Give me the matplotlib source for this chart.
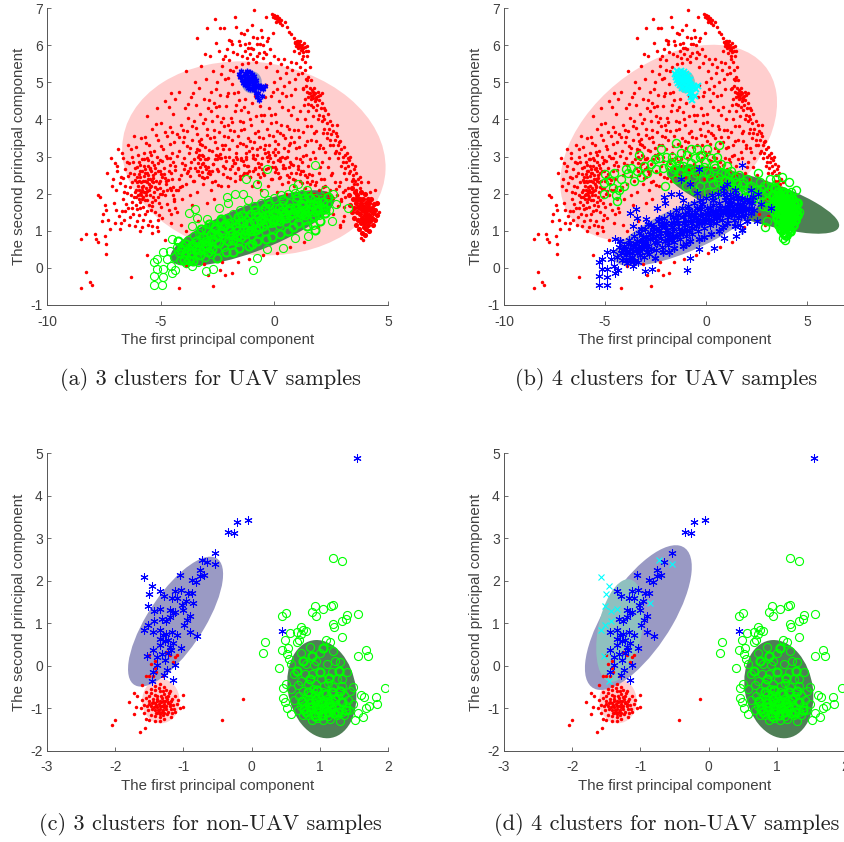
#!/usr/bin/env python3
"""Four PCA scatter panels: UAV and non-UAV samples, 3 and 4 clusters."""

import matplotlib
matplotlib.use("Agg")
import matplotlib.pyplot as plt
import numpy as np
from matplotlib.patches import Ellipse

plt.rcParams["font.family"] = ["Liberation Sans", "DejaVu Sans"]

# UAV samples (first PC, second PC)
uav_left = [
    (-7.35, 2.55), (-7.2, 2.95), (-7.1, 2.4), (-7.05, 1.75), (-6.95, 2.1), (-6.9, 2.75), (-6.85, 1.4),
    (-6.8, 1.05), (-6.75, 2.45), (-6.7, 3.1), (-6.65, 1.85), (-6.6, 1.3), (-6.55, 2.2), (-6.5, 2.85),
    (-6.45, 3.3), (-6.42, 1.6), (-6.4, 1.15), (-6.35, 2.55), (-6.3, 1.95), (-6.28, 3.0), (-6.25, 2.3),
    (-6.2, 1.45), (-6.18, 3.55), (-6.15, 2.7), (-6.12, 2.05), (-6.1, 1.7), (-6.08, 3.25), (-6.05, 2.45),
    (-6.02, 1.25), (-6.0, 1.95), (-5.98, 2.2), (-5.95, 2.85), (-5.93, 1.6), (-5.9, 2.6), (-5.88, 3.5),
    (-5.85, 2.05), (-5.83, 1.85), (-5.8, 1.1), (-5.78, 2.35), (-5.75, 3.1), (-5.73, 2.75), (-5.7, 1.45),
    (-5.68, 2.55), (-5.65, 2.15), (-5.63, 1.95), (-5.6, 4.1), (-5.58, 2.95), (-5.55, 2.4), (-5.53, 1.7),
    (-5.5, 3.3), (-5.48, 2.65), (-5.45, 1.25), (-5.43, 2.2), (-5.4, 2.85), (-5.38, 3.75), (-5.35, 2.5),
    (-5.33, 1.9), (-5.3, 2.05), (-5.28, 3.15), (-5.25, 1.5), (-5.23, 2.7), (-5.2, 2.35), (-5.18, 4.3),
    (-5.15, 1.1), (-5.13, 2.6), (-5.1, 3.45), (-5.08, 1.75), (-5.05, 2.15), (-5.03, 2.9), (-5.0, 3.9),
    (-4.95, 2.45), (-4.92, 1.35), (-4.9, 3.2), (-4.85, 2.7), (-4.82, 1.95), (-4.8, 4.5), (-4.75, 2.25),
    (-4.72, 3.55), (-4.7, 2.95), (-4.65, 1.55), (-4.62, 2.6), (-4.6, 3.8), (-4.55, 2.1), (-4.52, 3.1),
    (-4.5, 2.4), (-4.45, 4.15), (-4.42, 1.85), (-4.4, 3.4), (-5.92, 2.0), (-5.72, 2.05), (-5.62, 2.55),
    (-5.82, 2.6), (-6.02, 2.3), (-5.52, 2.25), (-5.42, 2.6), (-5.77, 1.9), (-5.97, 1.85), (-6.07, 2.1),
    (-5.57, 2.75), (-5.47, 2.4), (-5.87, 2.3), (-5.67, 2.35), (-5.32, 2.3), (-5.27, 2.55), (-6.17, 1.9),
    (-7.55, 1.45), (-7.6, 1.25), (-7.45, 1.7), (-7.65, 1.9), (-7.75, 1.95), (-7.4, 1.55), (-7.3, 1.3),
    (-7.25, 1.05),
]
uav_left_more = [
    (-6.93, 2.62), (-6.71, 1.52), (-6.47, 2.03), (-6.58, 2.67), (-6.34, 1.37), (-6.22, 2.86), (-6.11, 2.37),
    (-6.04, 1.58), (-5.96, 2.53), (-5.91, 1.77), (-5.84, 2.19), (-5.79, 1.63), (-5.74, 2.48), (-5.71, 1.82),
    (-5.66, 3.36), (-5.61, 2.08), (-5.59, 1.52), (-5.54, 2.91), (-5.49, 1.97), (-5.46, 2.17), (-5.41, 3.04),
    (-5.36, 1.66), (-5.34, 2.42), (-5.29, 2.78), (-5.24, 1.83), (-5.19, 3.58), (-5.16, 2.12), (-5.11, 2.83),
    (-5.06, 1.42), (-5.01, 2.33), (-4.97, 3.28), (-4.91, 2.06), (-4.87, 2.52), (-4.78, 3.02), (-4.74, 1.72),
    (-4.68, 2.37), (-4.61, 3.34), (-4.57, 2.78), (-4.49, 3.66), (-4.46, 2.19), (-4.39, 2.64), (-4.36, 1.62),
    (-6.88, 3.2), (-6.66, 2.95), (-6.52, 1.72), (-6.31, 3.2), (-6.13, 1.12), (-5.99, 3.05), (-5.81, 2.93),
    (-5.76, 1.3), (-5.69, 3.52), (-5.56, 1.15), (-5.44, 1.55), (-5.37, 1.12), (-5.22, 3.88), (-5.12, 1.28),
    (-4.98, 1.65), (-4.83, 3.65), (-4.63, 4.32), (-4.53, 1.45), (-7.02, 2.83), (-7.15, 2.2), (-6.98, 1.55),
    (-5.86, 1.95), (-5.96, 2.1), (-5.76, 2.2), (-5.66, 2.05), (-5.56, 2.5), (-5.46, 2.7), (-5.9, 2.45),
    (-6.08, 1.9), (-5.81, 2.1), (-5.7, 2.65), (-5.6, 2.3), (-5.51, 2.1), (-5.39, 2.35), (-5.95, 2.35),
    (-6.81, 2.28), (-6.62, 2.04), (-6.38, 2.82), (-6.27, 1.62), (-6.16, 2.52), (-6.06, 2.72), (-5.94, 1.42),
    (-5.89, 2.76), (-5.72, 2.92), (-5.58, 1.84), (-5.47, 3.12), (-5.38, 1.78), (-5.26, 2.18), (-5.14, 2.98),
    (-5.04, 2.62), (-4.93, 2.88), (-4.81, 2.42), (-4.71, 2.1), (-4.59, 2.96), (-4.47, 2.84), (-6.44, 2.48),
    (-6.74, 1.22), (-6.56, 1.52), (-6.24, 1.78), (-5.12, 1.92), (-4.94, 1.98), (-6.64, 2.42), (-6.37, 2.18),
]
uav_middle = [
    (-4.35, 2.75), (-4.3, 3.6), (-4.25, 2.1), (-4.2, 4.75), (-4.18, 3.15), (-4.12, 2.5), (-4.1, 3.85),
    (-4.05, 1.85), (-4.0, 3.4), (-3.98, 2.95), (-3.95, 4.3), (-3.9, 2.25), (-3.88, 5.3), (-3.85, 3.7),
    (-3.8, 2.6), (-3.78, 4.05), (-3.75, 3.1), (-3.7, 1.95), (-3.68, 4.6), (-3.65, 2.85), (-3.6, 3.45),
    (-3.58, 2.35), (-3.55, 3.95), (-3.5, 5.0), (-3.48, 2.7), (-3.45, 4.4), (-3.42, 3.2), (-3.4, 2.05),
    (-3.38, 3.6), (-3.35, 3.0), (-3.32, 4.85), (-3.3, 2.5), (-3.28, 4.15), (-3.25, 3.35), (-3.22, 5.45),
    (-3.2, 2.8), (-3.18, 3.05), (-3.15, 3.9), (-3.12, 2.25), (-3.1, 4.55), (-3.05, 3.25), (-3.02, 2.65),
    (-3.0, 5.1), (-2.98, 2.45), (-2.95, 3.75), (-2.92, 4.3), (-2.9, 2.95), (-2.88, 2.6), (-2.85, 5.7),
    (-2.82, 3.5), (-2.8, 2.1), (-2.78, 4.75), (-2.75, 3.15), (-2.72, 3.95), (-2.7, 2.8), (-2.68, 5.3),
    (-2.65, 4.45), (-2.62, 2.35), (-2.6, 3.4), (-2.58, 6.05), (-2.55, 3.05), (-2.52, 5.0), (-2.5, 4.1),
    (-2.48, 2.6), (-2.45, 3.65), (-2.42, 5.85), (-2.4, 2.95), (-2.38, 4.65), (-2.35, 2.2), (-2.32, 3.3),
    (-2.3, 5.45), (-2.28, 4.05), (-2.25, 2.75), (-2.22, 6.45), (-2.2, 3.55), (-2.18, 5.1), (-2.15, 3.0),
    (-2.12, 4.35), (-2.1, 5.9), (-2.08, 2.45), (-2.05, 3.85), (-2.02, 4.7), (-2.0, 3.2), (-1.98, 5.6),
    (-1.95, 2.65), (-1.92, 4.05), (-1.9, 6.1), (-1.88, 3.45), (-1.85, 4.95), (-1.82, 2.9), (-1.8, 5.3),
    (-1.78, 3.7), (-1.75, 6.75), (-1.72, 2.35), (-1.7, 4.4), (-1.68, 3.1), (-1.65, 5.75), (-1.62, 4.75),
    (-1.6, 3.55), (-1.58, 2.7), (-1.55, 5.15), (-1.52, 6.0), (-1.5, 3.95), (-1.48, 2.95), (-1.45, 4.25),
    (-1.42, 5.5), (-1.4, 3.35), (-1.38, 2.5), (-1.35, 6.3), (-1.32, 3.75), (-1.3, 5.85), (-1.28, 4.55),
    (-1.25, 3.0), (-1.22, 5.65), (-1.2, 2.75), (-1.18, 3.5), (-1.15, 4.2), (-1.12, 6.05), (-1.1, 3.15),
    (-1.08, 5.75), (-1.05, 2.45), (-1.02, 3.85), (-1.0, 6.55), (-0.98, 4.45), (-0.95, 2.95), (-0.92, 5.9),
    (-0.9, 3.4), (-0.88, 6.95), (-0.85, 2.65), (-0.82, 4.1), (-0.8, 5.55), (-0.78, 3.05), (-0.75, 6.2),
    (-0.72, 3.7), (-0.7, 2.3), (-0.68, 5.8), (-0.65, 4.35), (-0.62, 3.25), (-0.6, 6.4), (-0.58, 2.8),
    (-0.55, 3.95), (-0.52, 5.65), (-0.5, 3.5), (-0.48, 6.0), (-0.45, 2.5), (-0.42, 4.6), (-0.4, 3.1),
    (-0.38, 6.75), (-0.35, 5.75), (-0.32, 3.75), (-0.3, 2.7), (-0.28, 6.2), (-0.25, 4.3), (-0.22, 3.3),
    (-0.2, 5.9), (-0.18, 2.95), (-0.15, 3.9), (-0.12, 6.85), (-0.1, 2.4), (-0.08, 4.75), (-0.05, 3.55),
    (0.0, 5.0), (0.02, 3.05), (0.05, 4.15), (0.08, 2.65), (0.1, 3.7), (0.12, 5.3), (0.15, 2.9),
    (0.18, 3.35), (0.2, 4.5), (0.25, 2.45), (0.28, 5.5), (0.3, 3.85), (0.35, 3.0), (0.4, 2.7),
    (0.42, 4.9), (0.45, 3.5), (0.5, 5.25), (0.55, 2.5), (0.58, 4.25), (0.6, 3.15), (0.65, 3.75),
    (0.7, 2.85), (0.72, 5.55), (0.75, 4.65), (0.8, 2.4), (0.85, 3.4), (0.9, 5.1), (0.95, 2.95),
    (1.0, 4.0), (1.05, 2.65), (1.1, 3.25), (1.15, 5.4), (1.2, 2.85), (1.25, 3.65), (1.3, 4.4),
    (1.35, 2.5), (1.4, 3.05), (1.45, 5.05), (1.5, 2.75), (1.6, 3.45), (1.65, 2.35), (1.7, 4.1),
    (1.8, 2.95), (1.85, 3.7), (1.95, 2.55), (2.0, 3.3), (2.1, 2.85), (2.2, 2.4), (2.3, 3.5),
    (2.4, 2.95), (2.5, 2.5), (2.65, 3.1),
]
uav_middle_more = [
    (-4.27, 3.02), (-4.14, 2.17), (-4.03, 3.72), (-3.93, 2.78), (-3.83, 3.28), (-3.72, 2.47), (-3.63, 3.82),
    (-3.53, 2.92), (-3.44, 3.12), (-3.37, 2.62), (-3.33, 3.18), (-3.27, 2.92), (-3.23, 3.47), (-3.17, 2.57),
    (-3.13, 3.02), (-3.08, 2.42), (-3.03, 2.93), (-2.97, 3.58), (-2.93, 2.72), (-2.87, 3.17), (-2.83, 2.52),
    (-2.77, 4.22), (-2.73, 2.32), (-2.67, 3.72), (-2.63, 2.92), (-2.57, 4.82), (-2.53, 3.22), (-2.47, 2.22),
    (-2.43, 4.37), (-2.37, 3.07), (-2.33, 5.22), (-2.27, 2.52), (-2.23, 3.82), (-2.17, 5.72), (-2.13, 2.87),
    (-2.07, 4.62), (-2.03, 3.52), (-1.97, 5.32), (-1.93, 2.42), (-1.87, 3.92), (-1.83, 5.82), (-1.77, 2.82),
    (-1.73, 4.22), (-1.67, 5.42), (-1.63, 3.27), (-1.57, 6.12), (-1.53, 2.47), (-1.47, 3.72), (-1.43, 5.72),
    (-1.37, 2.87), (-1.33, 4.32), (-1.27, 6.02), (-1.23, 3.27), (-1.17, 5.52), (-1.13, 2.62), (-1.07, 4.02),
    (-1.03, 5.92), (-0.97, 3.22), (-0.93, 6.22), (-0.87, 2.92), (-0.83, 4.62), (-0.77, 5.72), (-0.73, 2.52),
    (-0.67, 3.52), (-0.63, 6.02), (-0.57, 4.12), (-0.53, 2.67), (-0.47, 5.82), (-0.43, 3.32), (-0.37, 4.92),
    (-0.33, 6.12), (-0.27, 2.87), (-0.23, 3.57), (-0.17, 5.52), (-0.13, 4.12), (-0.07, 3.12), (-0.03, 5.72),
    (0.03, 2.72), (0.07, 3.92), (0.13, 4.82), (0.17, 3.12), (0.23, 5.12), (0.27, 2.87), (0.33, 4.32),
    (0.37, 3.57), (0.43, 5.62), (0.47, 2.97), (0.53, 4.62), (0.57, 3.82), (0.63, 5.02), (0.67, 3.37),
    (0.73, 4.12), (0.77, 5.32), (0.83, 2.77), (0.87, 3.72), (0.93, 4.82), (0.97, 3.22), (1.03, 5.22),
    (1.07, 3.52), (1.13, 4.22), (1.17, 2.62), (1.23, 5.62), (1.27, 3.02), (1.33, 4.02), (1.37, 5.32),
    (1.43, 3.42), (1.47, 4.22), (1.53, 2.52), (1.62, 3.82), (1.72, 3.12), (1.82, 3.42), (1.92, 4.02),
    (2.02, 2.72), (2.12, 3.62), (2.22, 3.12), (2.35, 2.72), (-2.95, 6.45), (-2.4, 6.45), (-3.4, 6.2),
    (-2.6, 6.7), (-1.7, 6.5), (-4.35, 4.55), (-4.55, 4.72), (-3.05, 5.75), (-2.0, 6.15), (-1.2, 6.4),
    (-4.21, 3.52), (-4.08, 2.82), (-3.96, 3.52), (-3.81, 4.42), (-3.69, 3.22), (-3.56, 4.72), (-3.46, 3.77),
    (-3.36, 2.82), (-3.31, 3.42), (-3.26, 2.72), (-3.19, 3.32), (-3.14, 2.82), (-3.06, 4.02), (-2.96, 2.92),
    (-2.86, 4.52), (-2.76, 2.62), (-2.66, 3.52), (-2.56, 4.32), (-2.46, 3.02), (-2.36, 3.92), (-2.26, 5.62),
    (-2.16, 3.32), (-2.06, 5.12), (-1.96, 3.72), (-1.86, 6.02), (-1.76, 4.72), (-1.66, 2.92), (-1.56, 4.52),
    (-1.46, 6.32), (-1.36, 3.92), (-1.26, 2.92), (-1.16, 5.92), (-1.06, 3.42), (-0.96, 5.62), (-0.86, 3.62),
    (-0.76, 6.02), (-0.66, 2.72), (-0.56, 6.22), (-0.46, 4.12), (-0.36, 5.42), (-0.26, 3.12), (-0.16, 4.62),
    (-0.06, 6.32), (0.04, 3.42), (0.14, 5.62), (0.24, 3.62), (0.34, 4.72), (0.44, 3.22), (0.54, 5.42),
    (0.64, 2.72), (0.74, 3.52), (0.84, 4.32), (0.94, 5.52), (1.04, 3.72), (1.14, 2.92), (1.24, 4.82),
    (1.34, 3.32), (1.44, 3.82), (1.58, 2.92), (1.76, 3.62), (1.96, 3.22), (2.16, 3.22), (2.46, 3.32),
]
uav_arc = [
    (0.0, 6.82), (0.05, 6.72), (0.1, 6.78), (0.15, 6.65), (0.2, 6.72), (0.25, 6.6), (0.3, 6.68),
    (-0.05, 6.75), (0.35, 6.55), (0.45, 6.62), (0.55, 6.5), (0.65, 6.35), (0.75, 6.3), (0.85, 6.2),
    (0.9, 6.08), (0.95, 5.98), (1.0, 6.1), (1.03, 5.92), (1.08, 6.03), (1.1, 5.95), (1.13, 6.12),
    (1.18, 5.88), (1.2, 6.0), (1.25, 5.92), (1.28, 5.82), (1.33, 5.95), (1.4, 5.85), (1.45, 5.7),
    (1.55, 5.4), (1.4, 4.9), (1.45, 4.75), (1.5, 4.6), (1.55, 4.85), (1.58, 4.7), (1.62, 4.55),
    (1.65, 4.78), (1.7, 4.65), (1.73, 4.85), (1.78, 4.5), (1.8, 4.72), (1.85, 4.6), (1.88, 4.4),
    (1.92, 4.75), (1.95, 4.52), (2.0, 4.65), (2.05, 4.3), (2.1, 4.45), (2.12, 4.1), (2.2, 4.0),
    (2.25, 4.25), (2.3, 3.9), (2.4, 3.75), (2.45, 3.95), (2.5, 3.6), (2.6, 3.7), (2.65, 3.45),
    (2.75, 3.55), (2.8, 3.3), (2.85, 3.1), (2.9, 3.42), (2.95, 3.2), (3.0, 3.0), (3.05, 3.25),
    (3.1, 3.05), (3.15, 2.85), (3.2, 3.1), (3.25, 2.75), (3.3, 2.9), (3.35, 2.6), (3.4, 2.8),
    (3.45, 2.5), (3.5, 2.65), (3.55, 2.35), (3.6, 2.55), (3.65, 2.25), (3.7, 2.4), (3.75, 2.15),
    (3.8, 2.3), (0.02, 6.78), (0.12, 6.7), (0.08, 6.62), (0.22, 6.65), (0.98, 6.02), (1.06, 5.98),
    (1.02, 6.05), (1.12, 6.0), (1.16, 5.95), (1.22, 5.88), (1.05, 6.12), (0.93, 6.05), (1.6, 4.62),
    (1.68, 4.58), (1.75, 4.68), (1.82, 4.55), (1.52, 4.7), (1.9, 4.62), (1.72, 4.75), (2.7, 3.62),
    (3.1, 2.7), (3.0, 2.85), (3.28, 2.55), (3.4, 2.35), (3.5, 2.25), (3.6, 2.1), (3.22, 2.95),
    (3.55, 2.75), (3.35, 3.0), (2.85, 3.4), (2.55, 3.85), (2.35, 4.15), (2.2, 4.3), (1.35, 5.55),
    (1.5, 5.15), (1.25, 5.7), (1.6, 5.05), (2.1, 4.7), (2.75, 3.85), (1.35, 4.55), (1.48, 4.42),
    (1.6, 4.38), (1.72, 4.32), (1.85, 4.25), (1.98, 4.12), (2.08, 3.95), (2.2, 3.75), (2.32, 3.62),
    (2.45, 3.45), (2.58, 3.3), (2.7, 3.15), (2.82, 2.95), (2.95, 2.75), (3.08, 2.55), (1.28, 4.85),
    (1.38, 5.1), (1.2, 5.25), (0.85, 5.85), (1.3, 6.05), (1.42, 5.98), (1.5, 5.85), (1.1, 5.8),
]
uav_outliers = [
    (-8.5, -0.55), (-8.1, -0.38), (-8.0, -0.45), (-8.3, -0.1), (-6.3, -0.25), (-4.2, -0.53), (-2.7, -0.5),
    (-8.5, 0.77), (-8.3, 0.9), (-7.9, 0.9), (-7.85, 0.78), (-7.75, 0.7), (-7.45, 0.85), (-7.4, 0.65),
    (-7.4, 0.38), (-7.0, 1.2), (-5.9, 1.0), (-5.6, 0.35), (-5.4, 0.95), (-4.8, 0.75), (-3.9, 0.05),
    (-3.1, 0.1), (-2.9, -0.2), (-2.4, -0.05), (-2.15, -0.18), (-1.85, -0.15), (-2.3, 0.15), (-1.6, 0.15),
    (-1.1, 0.25), (-0.5, 0.35), (0.1, 0.4), (0.7, 0.55), (1.3, 0.7), (1.9, 1.1), (2.9, 1.15),
    (3.05, 1.4), (-4.1, 1.15), (-3.9, 1.0), (-3.35, 1.25), (-2.95, 1.75), (-2.65, 1.85), (-3.6, 1.7),
    (-4.3, 1.5), (-4.55, 1.2), (-5.1, 1.0), (2.6, 1.45), (2.95, 1.85), (3.1, 2.1), (2.9, 2.3),
]
uav_clump = [
    (3.3, 1.95), (3.35, 1.7), (3.4, 1.5), (3.42, 2.15), (3.45, 1.85), (3.5, 1.6), (3.52, 1.35),
    (3.55, 2.05), (3.58, 1.75), (3.6, 1.15), (3.62, 1.5), (3.65, 1.95), (3.68, 1.3), (3.7, 1.65),
    (3.72, 1.05), (3.75, 1.85), (3.78, 1.45), (3.8, 1.2), (3.82, 2.05), (3.83, 1.7), (3.85, 0.95),
    (3.87, 1.55), (3.9, 1.3), (3.92, 1.85), (3.93, 1.1), (3.95, 1.65), (3.97, 1.42), (3.98, 0.88),
    (4.0, 1.98), (4.02, 1.25), (4.03, 1.75), (4.05, 1.05), (4.07, 1.55), (4.08, 1.35), (4.1, 1.85),
    (4.12, 1.15), (4.13, 1.65), (4.15, 1.42), (4.17, 1.0), (4.18, 1.75), (4.2, 1.25), (4.22, 1.55),
    (4.25, 1.85), (4.28, 1.35), (4.3, 1.62), (4.33, 1.15), (4.35, 1.48), (4.38, 1.72), (4.42, 1.3),
    (4.45, 1.55), (4.5, 1.75), (4.52, 1.42), (3.75, 1.6), (3.85, 1.35), (3.95, 1.2), (4.05, 1.45),
    (3.9, 1.6), (4.1, 1.6), (3.8, 1.75), (4.0, 1.5), (4.15, 1.3), (3.7, 1.85), (3.6, 1.85),
]
uav_tip = [
    (-1.55, 5.22), (-1.5, 5.15), (-1.45, 5.3), (-1.42, 5.05), (-1.38, 4.98), (-1.35, 5.18), (-1.3, 5.25),
    (-1.28, 4.92), (-1.25, 5.1), (-1.22, 5.3), (-1.2, 5.0), (-1.18, 4.85), (-1.15, 5.18), (-1.12, 5.08),
    (-1.1, 4.95), (-1.08, 5.28), (-1.05, 4.82), (-1.02, 5.12), (-1.0, 5.0), (-0.98, 5.22), (-0.95, 4.9),
    (-0.92, 5.08), (-0.9, 4.78), (-0.88, 5.18), (-0.85, 4.98), (-0.82, 4.86), (-0.8, 5.05), (-0.75, 4.6),
    (-0.72, 4.92), (-0.7, 4.72), (-0.68, 4.52), (-0.65, 4.85), (-0.6, 4.9), (-0.55, 4.62), (-0.5, 4.82),
    (-0.42, 4.9), (-0.8, 4.7), (-1.05, 5.05), (-1.15, 5.0), (-0.95, 5.1),
]
# green circles in (a), blue stars in (b)
uav_low = [
    (1.79, 2.76), (-0.34, 2.67), (-1.24, 2.4), (-0.78, 2.25), (-0.45, 2.02), (1.05, 2.26), (0.83, 2.16),
    (1.42, 2.09), (2.23, 2.09), (2.59, 2.0), (2.7, 1.71), (3.22, 1.62), (2.52, 1.26), (-2.1, 1.91),
    (-1.73, 1.98), (-1.36, 1.98), (-1.14, 1.84), (-2.02, 1.75), (-2.42, 1.62), (-3.48, 1.59), (-3.76, 1.48),
    (-3.41, 1.35), (-2.97, 1.31), (-3.63, 1.13), (-4.51, 0.77), (-4.88, 0.43), (-5.17, 0.25), (-5.29, 0.17),
    (-4.9, -0.02), (-5.17, -0.02), (-5.29, -0.22), (-4.9, -0.25), (-5.29, -0.46), (-4.92, -0.46), (-4.51, -0.13),
    (-4.36, -0.06), (-3.63, 0.05), (-3.0, -0.08), (-2.68, -0.02), (-0.92, -0.07), (-0.78, 0.27), (0.4, 0.54),
    (-0.34, 0.5), (0.91, 0.81), (1.5, 0.85), (-4.4, 0.3), (-4.3, 0.55), (-4.2, 0.4), (-4.15, 0.2),
    (-4.05, 0.6), (-3.95, 0.35), (-3.9, 0.12), (-3.8, 0.75), (-3.75, 0.5), (-3.65, 0.3), (-3.55, 0.85),
    (-3.5, 0.6), (-3.4, 0.4), (-3.35, 0.15), (-3.3, 0.95), (-3.2, 0.7), (-3.15, 0.5), (-3.05, 0.28),
    (-3.0, 1.05), (-2.95, 0.82), (-2.85, 0.6), (-2.8, 0.38), (-2.7, 1.15), (-2.65, 0.92), (-2.55, 0.7),
    (-2.5, 0.48), (-2.4, 1.25), (-2.35, 1.02), (-2.25, 0.8), (-2.2, 0.55), (-2.1, 1.35), (-2.05, 1.1),
    (-1.95, 0.88), (-1.9, 0.62), (-1.8, 1.45), (-1.75, 1.2), (-1.65, 0.98), (-1.6, 0.7), (-1.5, 1.55),
    (-1.45, 1.3), (-1.35, 1.05), (-1.3, 0.78), (-1.2, 1.62), (-1.15, 1.38), (-1.05, 1.15), (-1.0, 0.85),
    (-0.9, 1.68), (-0.85, 1.45), (-0.75, 1.2), (-0.7, 0.92), (-0.6, 1.75), (-0.55, 1.5), (-0.45, 1.28),
    (-0.4, 1.0), (-0.3, 1.82), (-0.25, 1.58), (-0.15, 1.35), (-0.1, 1.08), (0.0, 1.88), (0.05, 1.62),
    (0.15, 1.42), (0.2, 1.15), (0.3, 1.95), (0.35, 1.7), (0.45, 1.48), (0.5, 1.22), (0.6, 1.98),
    (0.65, 1.75), (0.75, 1.55), (0.8, 1.3), (0.9, 2.02), (0.95, 1.82), (1.05, 1.62), (1.1, 1.38),
    (1.2, 1.98), (1.25, 1.78), (1.35, 1.55), (1.4, 1.3), (1.5, 1.95), (1.55, 1.72), (1.65, 1.5),
    (1.7, 1.15), (1.8, 1.88), (1.85, 1.65), (1.95, 1.42), (2.05, 1.85), (2.15, 1.62), (2.3, 1.75),
    (2.4, 1.55), (-3.3, 0.6), (-2.6, 0.8), (-1.7, 0.85), (-0.95, 1.0), (-0.2, 1.2), (0.4, 1.35),
    (1.0, 1.5), (1.6, 1.35), (2.0, 1.6), (-4.6, 0.45), (-4.7, 0.25), (-4.55, 0.05), (-4.0, 0.5),
]
uav_low_more = [
    (-4.12, 0.47), (-3.87, 0.63), (-3.68, 0.41), (-3.44, 0.72), (-3.27, 0.34), (-3.12, 0.84), (-2.91, 0.44),
    (-2.76, 0.77), (-2.59, 1.04), (-2.43, 0.66), (-2.29, 0.93), (-2.14, 0.42), (-1.98, 1.21), (-1.84, 0.74),
    (-1.69, 1.09), (-1.56, 0.53), (-1.41, 1.42), (-1.27, 0.92), (-1.11, 1.21), (-0.98, 0.64), (-0.83, 1.57),
    (-0.68, 1.08), (-0.52, 1.36), (-0.37, 0.78), (-0.22, 1.72), (-0.08, 1.23), (0.08, 1.49), (0.23, 0.92),
    (0.37, 1.83), (0.52, 1.34), (0.68, 1.61), (0.84, 1.09), (0.98, 1.92), (1.13, 1.47), (1.28, 1.67),
    (1.43, 1.12), (1.58, 1.88), (1.73, 1.39), (1.88, 1.78), (2.03, 1.27), (2.21, 1.47), (2.35, 1.92),
    (-4.25, 0.72), (-3.98, 0.2), (-3.58, 0.18), (-3.22, 1.05), (-2.88, 1.18), (-2.52, 0.27), (-2.17, 1.18),
    (-1.82, 0.43), (-1.46, 0.82), (-1.12, 0.58), (-0.78, 0.72), (-0.43, 1.62), (-0.12, 0.82), (0.27, 1.27),
    (0.62, 0.98), (1.02, 1.22), (1.32, 1.88), (1.78, 1.02), (-3.07, 0.62), (-2.72, 0.52), (-2.33, 1.32),
    (-1.94, 1.02), (-1.57, 1.22), (-1.19, 1.02), (-0.82, 1.02), (-0.48, 1.12), (-0.06, 1.45), (0.33, 1.52),
    (0.71, 1.42), (1.16, 1.72), (1.47, 1.52), (1.92, 1.58), (2.25, 1.58), (-3.75, 0.22), (-3.46, 0.52),
    (-2.98, 0.58), (-2.62, 1.1), (-2.02, 0.72), (-1.62, 1.38), (-1.03, 1.45), (-0.62, 1.28), (-0.28, 1.42),
    (0.12, 1.28), (0.58, 1.55), (0.92, 1.62), (1.22, 1.45), (1.68, 1.72), (2.12, 1.78), (-0.88, 1.25),
    (-3.9, 0.42), (-3.6, 0.62), (-3.33, 0.48), (-3.02, 0.72), (-2.77, 0.92), (-2.47, 0.87), (-2.23, 1.12),
    (-1.87, 0.92), (-1.63, 0.86), (-1.37, 1.22), (-1.08, 0.98), (-0.73, 1.4), (-0.36, 1.2), (-0.02, 1.32),
    (0.21, 1.62), (0.47, 1.42), (0.82, 1.48), (1.07, 1.52), (1.37, 1.42), (1.62, 1.6), (1.83, 1.52),
]
# red dots in (a), green circles in (b)
uav_band = [
    (-4.98, 2.52), (-5.06, 2.29), (-5.03, 1.98), (-4.4, 1.8), (-4.31, 2.11), (-3.98, 2.65), (-3.3, 3.05),
    (-2.24, 3.19), (-1.49, 3.37), (0.63, 3.32), (-4.75, 2.35), (-4.55, 2.55), (-4.6, 2.15), (-4.45, 1.95),
    (-4.2, 2.4), (-4.05, 2.2), (-3.85, 2.55), (-3.7, 2.7), (-3.55, 2.35), (-3.4, 2.6), (-3.2, 2.45),
    (-3.05, 2.75), (-2.9, 2.55), (-2.7, 2.8), (-2.5, 2.65), (-2.35, 2.95), (-2.15, 2.7), (-2.05, 2.2),
    (-2.0, 3.0), (-1.85, 2.75), (-1.7, 3.0), (-1.6, 2.65), (-1.45, 2.9), (-1.35, 2.55), (-1.25, 3.1),
    (-1.15, 2.75), (-1.05, 2.45), (-0.95, 3.05), (-0.85, 2.7), (-0.75, 3.2), (-0.65, 2.45), (-0.55, 2.95),
    (-0.45, 3.2), (-0.35, 2.65), (-0.25, 3.05), (-0.15, 2.4), (-0.05, 2.85), (0.05, 3.2), (0.15, 2.55),
    (0.25, 2.95), (0.35, 2.25), (0.45, 2.7), (0.55, 3.0), (0.65, 2.45), (0.75, 2.8), (0.85, 2.2),
    (0.95, 2.55), (1.05, 2.75), (1.15, 2.35), (1.25, 2.6), (1.35, 2.15), (1.45, 2.45), (1.55, 2.25),
    (1.65, 2.5), (1.75, 2.0), (1.85, 2.3), (1.95, 2.1), (2.05, 2.4), (2.15, 1.95), (2.25, 2.2),
    (2.35, 1.85), (2.45, 2.1), (2.55, 2.55), (2.65, 2.3), (2.75, 1.95), (2.85, 2.2), (2.95, 1.8),
    (3.05, 1.65), (3.0, 1.25), (2.9, 1.1), (3.15, 2.4), (3.45, 2.4), (3.75, 2.45), (4.1, 2.3),
    (4.2, 2.05), (4.45, 2.1), (4.6, 1.5), (3.8, 0.8), (3.9, 0.75), (-0.6, 2.1), (-0.3, 2.2),
    (0.1, 2.05), (0.5, 2.0), (-1.0, 2.2), (-1.5, 2.4), (-1.75, 2.55), (-1.22, 2.55), (-0.92, 2.62),
    (-0.52, 2.55), (-0.12, 2.72), (0.22, 2.42), (0.58, 2.32), (0.92, 2.38), (1.22, 2.28), (1.58, 2.05),
    (1.92, 1.92), (2.28, 2.02), (2.58, 1.88), (2.82, 1.68), (3.12, 1.92), (3.22, 2.15), (-0.72, 2.82),
    (-0.32, 2.98), (0.02, 2.58), (0.38, 2.78), (0.72, 2.55), (1.12, 2.52), (1.42, 2.32), (1.78, 2.22),
    (2.12, 2.18), (2.42, 1.95), (2.72, 2.12), (3.02, 2.05), (-1.32, 2.78), (-1.72, 2.82), (-2.52, 2.92),
]
# cluster ellipses: centre x, centre y, width, height, angle
ell_a_red = (-0.9, 2.95, 11.6, 5.2, -3)
ell_a_green = (-0.96, 1.07, 7.4, 1.3, 12.5)
ell_a_blue = (-1.0, 5.0, 0.9, 0.6, 0)
ell_b_red = (-1.85, 3.37, 11.0, 4.7, 14)
ell_b_green = (2.35, 1.85, 8.6, 1.2, -9.6)
ell_b_blue = (-0.96, 1.07, 7.4, 1.3, 12.5)
ell_b_cyan = (-1.0, 5.0, 0.9, 0.6, 0)

# non-UAV samples
nonuav_red = [
    (-2.05, -1.39), (-2.0, -1.28), (-1.63, -1.55), (-1.56, -1.46), (-1.8, -0.85), (-1.72, -0.63), (-1.68, -0.72),
    (-1.7, -0.98), (-1.72, -1.13), (-0.43, -1.27), (-0.12, -0.79), (-1.0, -0.68), (-1.01, -0.97), (-1.5, 0.25),
    (-1.48, 0.05), (-1.42, 0.12), (-1.41, -0.05), (-1.25, 0.32), (-1.2, 0.25), (-1.1, 0.25), (-1.13, 0.2),
    (-1.15, 0.1), (-1.4, -0.15), (-1.55, -0.25), (-1.5, -0.25), (-1.45, -0.25), (-1.6, -0.45), (-1.3, -0.25),
    (-1.55, -0.62), (-1.5, -0.9), (-1.6, -0.8), (-1.62, -1.0), (-1.58, -1.12), (-1.55, -1.25), (-1.5, -1.28),
    (-1.42, -1.3), (-1.35, -1.3), (-1.28, -1.25), (-1.18, -1.2), (-1.12, -1.1), (-1.05, -1.0), (-1.08, -0.8),
    (-1.12, -0.7), (-1.2, -0.6), (-1.28, -0.5), (-1.35, -0.42), (-1.42, -0.48), (-1.48, -0.65), (-1.55, -0.75),
    (-1.58, -0.92), (-1.52, -1.05), (-1.48, -1.15), (-1.42, -1.18), (-1.35, -1.2), (-1.28, -1.12), (-1.22, -1.08),
    (-1.18, -1.02), (-1.15, -0.92), (-1.18, -0.82), (-1.22, -0.72), (-1.28, -0.66), (-1.35, -0.6), (-1.42, -0.68),
    (-1.45, -0.78), (-1.5, -0.82), (-1.48, -0.95), (-1.42, -1.05), (-1.36, -1.08), (-1.3, -1.03), (-1.25, -0.95),
    (-1.22, -0.88), (-1.27, -0.82), (-1.32, -0.76), (-1.38, -0.78), (-1.42, -0.88), (-1.38, -0.98), (-1.32, -0.95),
    (-1.28, -0.9), (-1.33, -0.86), (-1.36, -0.9), (-1.4, -0.95), (-1.34, -1.02), (-1.3, -0.82), (-1.25, -1.02),
    (-1.44, -0.85), (-1.38, -0.84), (-1.2, -0.95), (-1.46, -1.02), (-1.33, -0.7), (-1.24, -0.78), (-1.16, -0.78),
    (-1.38, -1.12), (-1.3, -1.15), (-1.5, -0.72), (-1.1, -0.9), (-1.14, -1.02), (-1.4, -0.92), (-1.35, -0.82),
    (-1.29, -0.97), (-1.23, -0.85), (-1.37, -1.05), (-1.31, -1.08), (-1.43, -0.97), (-1.26, -0.74), (-1.35, -0.95),
    (-1.46, -0.88), (-1.19, -0.89), (-1.4, -1.12), (-1.24, -1.14), (-1.17, -1.12), (-1.53, -0.95), (-1.39, -0.72),
    (-1.3, -0.6), (-1.21, -0.65), (-1.41, -0.57), (-1.47, -0.55), (-1.36, -0.52), (-1.26, -0.58), (-1.34, -1.14),
]
nonuav_blue = [
    (1.55, 4.89), (0.45, 0.82), (-0.06, 3.44), (-0.21, 3.39), (-0.34, 3.16), (-0.26, 3.12), (-0.54, 2.65),
    (-0.66, 2.44), (-1.05, 2.13), (-0.75, 2.25), (-0.7, 2.15), (-0.76, 2.12), (-0.88, 2.02), (-0.81, 1.98),
    (-1.35, 1.76), (-1.28, 1.65), (-1.12, 1.77), (-1.03, 1.78), (-0.93, 1.72), (-0.88, 1.72), (-1.17, 1.59),
    (-1.1, 1.59), (-0.96, 1.52), (-1.2, 1.31), (-1.12, 1.27), (-1.02, 1.43), (-1.01, 1.31), (-0.91, 1.17),
    (-0.95, 1.09), (-0.99, 0.96), (-1.32, 1.11), (-1.2, 1.15), (-1.45, 0.8), (-1.34, 0.84), (-1.26, 0.76),
    (-1.17, 0.79), (-1.1, 0.72), (-0.91, 0.79), (-0.8, 0.71), (-1.34, 0.64), (-1.27, 0.59), (-1.34, 0.49),
    (-1.2, 0.45), (-1.15, 0.53), (-1.03, 0.42), (-1.44, 0.37), (-1.39, 0.21), (-1.22, 0.29), (-1.27, 0.13),
    (-1.12, 0.02), (-1.39, 0.02), (-1.45, -0.14), (-1.24, -0.09), (-1.29, -0.22), (-1.15, -0.34), (-1.25, 1.05),
    (-1.15, 1.25), (-1.3, 0.72), (-1.22, 0.6), (-1.18, 0.38), (-1.32, 0.28),
]
nonuav_split = [
    (-1.58, 2.1), (-1.46, 1.88), (-1.5, 1.7), (-0.72, 2.49), (-0.53, 2.39), (-0.86, 1.49), (-1.52, 1.4),
    (-1.43, 1.29), (-1.34, 1.33), (-1.43, 1.06), (-1.58, 0.84), (-1.52, 0.96), (-1.54, 0.23), (-1.46, -0.36),
]
nonuav_green = [
    (1.2, 2.53), (1.33, 2.46), (0.44, 1.18), (0.51, 1.25), (0.89, 1.27), (0.93, 1.4), (0.94, 1.18),
    (1.05, 1.33), (1.16, 1.4), (1.2, 1.44), (1.56, 1.22), (1.4, 1.19), (1.38, 1.11), (1.33, 1.05),
    (1.19, 0.99), (1.21, 0.92), (0.73, 0.92), (0.76, 0.84), (0.8, 0.82), (0.66, 0.8), (0.57, 0.78),
    (0.72, 0.75), (1.33, 0.68), (0.49, 0.6), (0.19, 0.55), (0.69, 0.6), (0.67, 0.55), (0.17, 0.29),
    (0.45, 0.37), (0.54, 0.43), (0.52, 0.27), (0.55, 0.17), (0.4, -0.05), (1.09, 0.6), (1.15, 0.57),
    (1.68, 0.38), (1.56, 0.22), (1.71, 0.24), (1.95, -0.53), (1.82, -0.73), (1.84, -0.89), (1.65, -0.73),
    (1.61, -0.69), (1.72, -0.95), (1.68, -1.0), (1.63, -1.2), (1.51, -1.28), (1.56, -1.12), (1.49, -0.49),
    (0.46, -0.53), (0.46, -0.77), (0.49, -0.85), (0.52, -0.99), (0.58, -1.14), (0.51, -0.42), (0.58, 0.05),
    (0.72, 0.3), (0.85, 0.45), (1.0, 0.3), (1.2, 0.35), (0.62, -0.2), (0.8, 0.05), (0.95, 0.12),
    (1.1, 0.05), (1.3, 0.1), (1.4, -0.15), (0.58, -0.55), (0.72, -0.35), (0.88, -0.2), (1.02, -0.3),
    (1.18, -0.15), (1.32, -0.3), (1.45, -0.6), (0.62, -0.8), (0.75, -0.6), (0.9, -0.55), (1.05, -0.62),
    (1.2, -0.5), (1.35, -0.68), (1.48, -0.9), (0.68, -1.05), (0.78, -0.9), (0.88, -0.8), (0.95, -0.92),
    (1.02, -0.82), (1.1, -0.95), (1.2, -0.85), (1.28, -1.0), (1.38, -0.95), (0.75, -1.15), (0.85, -1.05),
    (0.92, -1.12), (1.0, -1.05), (1.08, -1.12), (1.15, -1.05), (1.25, -1.15), (1.35, -1.15), (0.88, -1.28),
    (0.96, -1.22), (1.05, -1.28), (1.15, -1.25), (1.3, -1.3), (0.95, -1.0), (1.02, -0.95), (0.9, -0.95),
    (1.08, -0.85), (0.98, -0.72), (0.85, -0.68), (1.15, -0.75), (1.12, -0.4), (0.95, -0.42), (0.78, -0.2),
    (0.68, -0.45), (0.82, -0.42), (1.25, -0.32), (0.92, 0.02), (1.22, 0.12), (0.7, -0.72), (0.83, -0.78),
    (0.97, -0.84), (1.11, -0.78), (1.26, -0.72), (1.41, -0.8), (0.72, -0.95), (0.82, -1.15), (0.98, -1.12),
    (1.12, -1.18), (1.24, -0.92), (1.33, -1.08), (1.43, -1.05), (0.93, -0.68), (1.06, -0.48), (1.32, -0.48),
]
# dense lower part of the green blob
nonuav_green_core = [
    (0.74, -0.82), (0.86, -0.88), (0.94, -0.78), (1.03, -0.88), (1.13, -0.88), (1.22, -0.78), (1.32, -0.86),
    (0.77, -1.02), (0.87, -0.98), (0.97, -1.02), (1.06, -1.0), (1.17, -0.98), (1.27, -1.08), (1.38, -1.04),
    (0.83, -0.62), (0.96, -0.58), (1.09, -0.66), (1.18, -0.62), (1.3, -0.6), (0.8, -1.08), (0.93, -1.18),
    (1.03, -1.15), (1.12, -1.08), (1.21, -1.12), (0.86, -0.3), (1.0, -0.15), (1.14, -0.28), (0.76, 0.12),
    (1.05, 0.42), (0.88, 0.22), (1.28, -0.12), (0.67, -0.12),
]
ell_c_red = (-1.33, -0.83, 0.55, 1.05, 0)
ell_c_green = (1.03, -0.55, 2.32, 1.0, -85.4)
ell_c_blue = (-1.115, 1.04, 3.24, 0.9, 70)
ell_d_red = (-1.33, -0.83, 0.55, 1.05, 0)
ell_d_green = (1.03, -0.55, 2.32, 1.0, -85.4)
ell_d_blue = (-1.03, 1.135, 3.6, 1.06, 70.4)
ell_d_cyan = (-1.3, 0.83, 2.43, 0.65, 83.9)

PINK = "#ffcece"
DARK_GREEN = "#4f7f56"
GREY_BLUE = "#9a9ac4"
GREY_CYAN = "#8fc0bf"
W, H = 845, 842
TEXT = "#404040"


def add_axes(fig, left, right, top, bottom, xlim, ylim, xticks, yticks):
    ax = fig.add_axes([left / W, 1 - bottom / H, (right - left) / W, (bottom - top) / H])
    ax.set_xlim(*xlim)
    ax.set_ylim(*ylim)
    ax.set_xticks(xticks)
    ax.set_yticks(yticks)
    ax.spines[["top", "right"]].set_visible(False)
    ax.spines[["left", "bottom"]].set_color("#555555")
    ax.spines[["left", "bottom"]].set_linewidth(0.7)
    ax.tick_params(direction="in", length=3, width=0.6, color="#555555",
                   labelsize=10, labelcolor=TEXT)
    ax.tick_params(axis="x", pad=7)
    ax.tick_params(axis="y", pad=3)
    ax.xaxis.set_major_formatter(lambda v, pos: f"{v:g}")
    ax.yaxis.set_major_formatter(lambda v, pos: f"{v:g}")
    ax.set_xlabel("The first principal component", fontsize=10.8, color=TEXT, labelpad=3)
    ax.set_ylabel("The second principal component", fontsize=10.8, color=TEXT, labelpad=3)
    return ax


def ell(ax, params, color):
    cx, cy, w, h, angle = params
    ax.add_patch(Ellipse((cx, cy), w, h, angle=angle, facecolor=color, edgecolor="none", zorder=1))


def dots(ax, pts, ms=5.0, color="#ff0000"):
    a = np.array(pts)
    ax.plot(a[:, 0], a[:, 1], ".", color=color, ms=ms, mew=0, zorder=2)


def circles(ax, pts, mew=0.8):
    a = np.array(pts)
    ax.plot(a[:, 0], a[:, 1], "o", mfc="none", mec="#00ff00", ms=5.8, mew=mew, zorder=3)


def stars(ax, pts, ms=5.8, mew=0.75):
    a = np.array(pts)
    ax.plot(a[:, 0], a[:, 1], ls="none", marker=(6, 2, 0), color="#0000ff", ms=ms, mew=mew, zorder=4)


def crosses(ax, pts, ms=4.5, mew=0.8):
    a = np.array(pts)
    ax.plot(a[:, 0], a[:, 1], ls="none", marker="x", color="#00ffff", ms=ms, mew=mew, zorder=5)


def main():
    fig = plt.figure(figsize=(W / 100, H / 100), dpi=100)
    red_cloud = (uav_left, uav_left_more, uav_middle, uav_middle_more, uav_arc, uav_outliers)

    # (a)
    ax = add_axes(fig, 47, 388, 8, 305, (-10, 5), (-1, 7), [-10, -5, 0, 5], range(-1, 8))
    ell(ax, ell_a_red, PINK)
    ell(ax, ell_a_green, DARK_GREEN)
    ell(ax, ell_a_blue, GREY_BLUE)
    for pts in red_cloud + (uav_band,):
        dots(ax, pts)
    dots(ax, uav_clump, ms=7.5)
    circles(ax, uav_low)
    circles(ax, uav_low_more, mew=1.5)
    stars(ax, uav_tip, ms=4.0, mew=1.0)

    # (b)
    ax = add_axes(fig, 504, 845, 8, 305, (-10, 6.88), (-1, 7), [-10, -5, 0, 5], range(-1, 8))
    ell(ax, ell_b_red, PINK)
    ell(ax, ell_b_green, DARK_GREEN)
    ell(ax, ell_b_blue, GREY_BLUE)
    ell(ax, ell_b_cyan, GREY_CYAN)
    for pts in red_cloud:
        dots(ax, pts)
    circles(ax, uav_band, mew=1.0)
    circles(ax, uav_clump, mew=2.0)
    stars(ax, uav_low)
    stars(ax, uav_low_more, mew=1.0)
    crosses(ax, uav_tip, ms=4.0, mew=1.4)

    # (c)
    ax = add_axes(fig, 47, 388, 453.5, 750.7, (-3, 2), (-2, 5), range(-3, 3), range(-2, 6))
    ell(ax, ell_c_red, PINK)
    ell(ax, ell_c_green, DARK_GREEN)
    ell(ax, ell_c_blue, GREY_BLUE)
    dots(ax, nonuav_red)
    circles(ax, nonuav_green)
    circles(ax, nonuav_green_core, mew=1.6)
    stars(ax, nonuav_blue)
    stars(ax, nonuav_split)

    # (d)
    ax = add_axes(fig, 504, 845, 453.5, 750.7, (-3, 2), (-2, 5), range(-3, 3), range(-2, 6))
    ell(ax, ell_d_red, PINK)
    ell(ax, ell_d_green, DARK_GREEN)
    ell(ax, ell_d_blue, GREY_BLUE)
    ell(ax, ell_d_cyan, GREY_CYAN)
    dots(ax, nonuav_red)
    circles(ax, nonuav_green)
    circles(ax, nonuav_green_core, mew=1.6)
    stars(ax, nonuav_blue)
    crosses(ax, nonuav_split)

    caption = dict(family="cmr10", fontsize=16, color="#222222", ha="center", va="baseline")
    fig.text(210.5 / W, 1 - 385 / H, "(a) 3 clusters for UAV samples", **caption)
    fig.text(666.5 / W, 1 - 385 / H, "(b) 4 clusters for UAV samples", **caption)
    fig.text(210 / W, 1 - 830 / H, "(c) 3 clusters for non-UAV samples", **caption)
    fig.text(667 / W, 1 - 830 / H, "(d) 4 clusters for non-UAV samples", **caption)

    fig.savefig("out.png", dpi=100, facecolor="white")


if __name__ == "__main__":
    main()
